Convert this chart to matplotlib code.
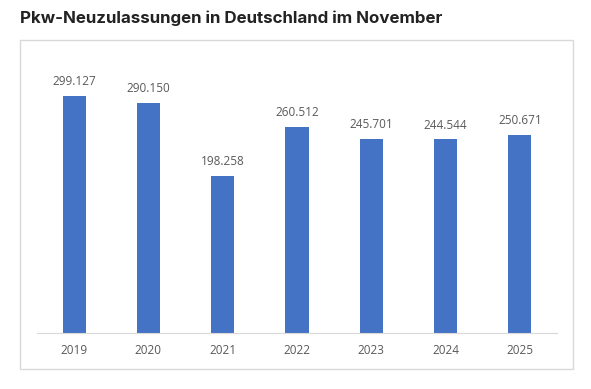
import matplotlib.pyplot as plt
from matplotlib.patches import Rectangle

years = ['2019', '2020', '2021', '2022', '2023', '2024', '2025']
values = [299127, 290150, 198258, 260512, 245701, 244544, 250671]
labels = ['299.127', '290.150', '198.258', '260.512', '245.701', '244.544', '250.671']

fig = plt.figure(figsize=(5.91, 3.89), dpi=100)
fig.patch.set_facecolor('white')

# chart frame
fig.patches.append(Rectangle((20/591, 1 - 369/389), 553/591, 329/389,
                             transform=fig.transFigure, fill=False,
                             edgecolor='#d9d9d9', linewidth=1))

fig.text(20/591, 1 - 18/389, 'Pkw-Neuzulassungen in Deutschland im November',
         fontsize=12.2, fontweight='bold', family='Inter', color='#222222',
         va='center', ha='left')

ax = fig.add_axes([37/591, 56/389, 520/591, 277/389])
x = range(len(years))
ax.bar(x, values, width=0.31, color='#4472c4')
for i, v in enumerate(values):
    ax.text(i, v + 10000, labels[i], ha='center', va='bottom',
            fontsize=8.5, color='#595959', family='Open Sans')

ax.set_xlim(-0.5, 6.5)
ax.set_ylim(0, 350000)
ax.set_xticks(list(x))
ax.set_xticklabels(years, fontsize=8.5, color='#595959', family='Open Sans')
ax.tick_params(axis='x', length=0, pad=8)
ax.set_yticks([])
for s in ['top', 'right', 'left']:
    ax.spines[s].set_visible(False)
ax.spines['bottom'].set_color('#d9d9d9')

fig.savefig('out.png', dpi=100)
